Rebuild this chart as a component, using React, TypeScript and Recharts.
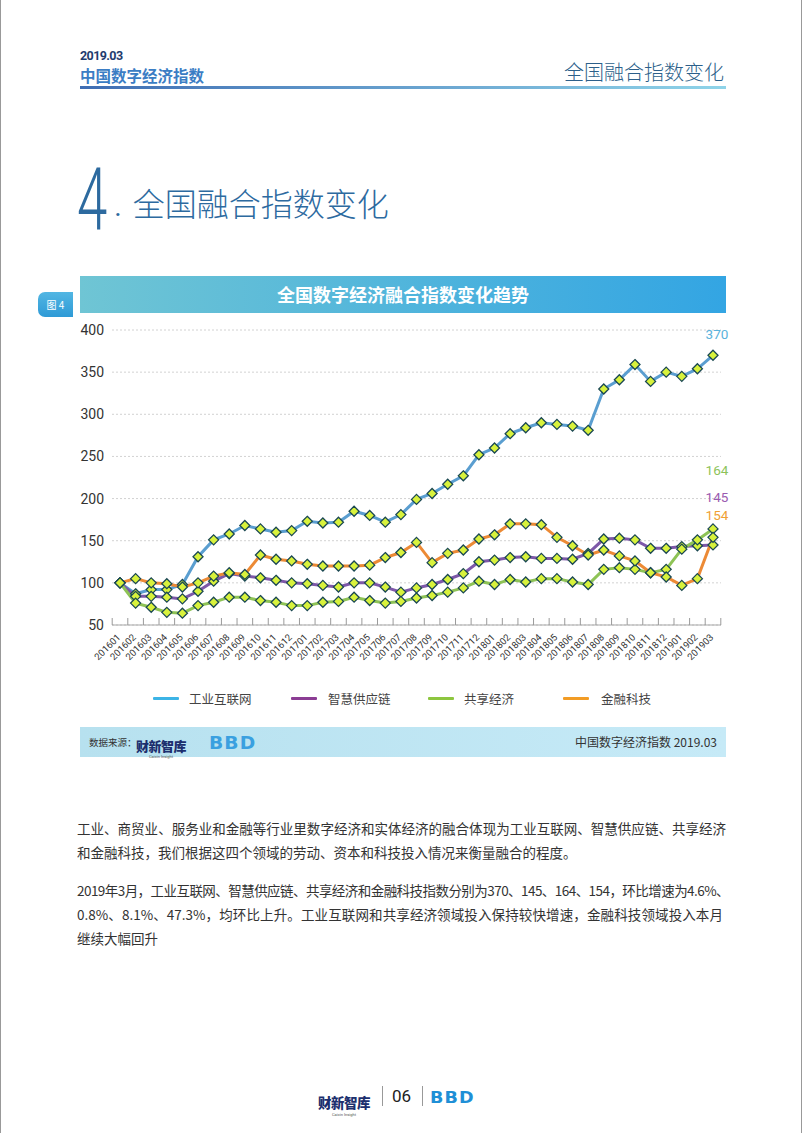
import React from "react";
import { LineChart, Line, XAxis, YAxis, CartesianGrid, LabelList } from "recharts";

const categories = [
  "201601","201602","201603","201604","201605","201606","201607","201608","201609","201610","201611","201612",
  "201701","201702","201703","201704","201705","201706","201707","201708","201709","201710","201711","201712",
  "201801","201802","201803","201804","201805","201806","201807","201808","201809","201810","201811","201812",
  "201901","201902","201903",
];
const industrial = [100, 87, 92, 92, 98, 131, 151, 158, 168, 164, 160, 162, 173, 171, 172, 185, 180, 172, 181, 199, 206, 217, 227, 252, 260, 277, 284, 290, 288, 286, 281, 330, 341, 359, 339, 350, 345, 354, 370];
const supply = [100, 84, 84, 83, 81, 90, 102, 111, 108, 106, 103, 100, 99, 97, 95, 100, 100, 95, 89, 94, 98, 104, 111, 125, 127, 130, 131, 129, 129, 128, 135, 152, 153, 151, 141, 141, 143, 144, 145];
const sharing = [100, 76, 71, 65, 64, 73, 77, 83, 83, 79, 77, 73, 73, 77, 78, 83, 79, 76, 78, 82, 85, 89, 94, 102, 98, 104, 101, 105, 105, 101, 98, 116, 118, 116, 112, 116, 140, 151, 164];
const fintech = [100, 105, 100, 99, 95, 100, 108, 112, 110, 133, 128, 126, 122, 120, 120, 120, 121, 130, 136, 148, 124, 135, 139, 152, 157, 170, 170, 169, 154, 144, 133, 139, 132, 126, 112, 107, 97, 105, 154];
const yTicks = [50, 100, 150, 200, 250, 300, 350, 400];

const seriesNames = ["工业互联网", "智慧供应链", "共享经济", "金融科技"];
const seriesKeys = ["industrial", "supply", "sharing", "fintech"];

const data = categories.map((m, i) => ({
  month: m,
  industrial: industrial[i],
  supply: supply[i],
  sharing: sharing[i],
  fintech: fintech[i],
}));

const lineColors: Record<string, string> = {
  industrial: "#5a9ed0",
  supply: "#7d58a8",
  sharing: "#8ec356",
  fintech: "#ec8a35",
};
const legendColors: Record<string, string> = {
  industrial: "#3cb4e6",
  supply: "#8b3d94",
  sharing: "#8dc63f",
  fintech: "#f29c25",
};
const labelColors: Record<string, string> = {
  industrial: "#5ab3dc",
  supply: "#9a5bb0",
  sharing: "#8dc35a",
  fintech: "#f0a035",
};
const labelDy: Record<string, number> = { industrial: -21, supply: -48, sharing: -59, fintech: -22 };

const CJK = '"Noto Sans CJK SC", "Noto Sans", sans-serif';
const NUM = 'Roboto, "Noto Sans", sans-serif';
const STEP = 15.6;

const Diamond = (p: any) => {
  const { cx, cy, index, dataKey } = p;
  if (cx == null || cy == null) return <g key={`e-${dataKey}-${index}`} />;
  const r = 5;
  return (
    <polygon
      key={`d-${dataKey}-${index}`}
      points={`${cx},${cy - r} ${cx + r},${cy} ${cx},${cy + r} ${cx - r},${cy}`}
      fill="#d8f23c"
      stroke="#1a4852"
      strokeWidth={1.3}
    />
  );
};

const XTick = (p: any) => {
  const { x, y, payload, index } = p;
  const last = index === categories.length - 1;
  const ax = x + 1;
  const ay = y + 13;
  return (
    <g>
      <line x1={x - STEP / 2} x2={x - STEP / 2} y1={y} y2={y - 7} stroke="#9a9a9a" strokeWidth={1} />
      {last && <line x1={x + STEP / 2} x2={x + STEP / 2} y1={y} y2={y - 7} stroke="#9a9a9a" strokeWidth={1} />}
      <text
        x={ax}
        y={ay}
        textAnchor="end"
        transform={`rotate(-45, ${ax}, ${ay})`}
        fontSize={9.5}
        fontFamily={NUM}
        fill="#333"
      >
        {payload.value}
      </text>
    </g>
  );
};

const makeEndLabel = (key: string) => (p: any) => {
  const { x, y, value, index } = p;
  if (index !== categories.length - 1) return null;
  return (
    <text
      x={x + 4}
      y={y + labelDy[key]}
      textAnchor="middle"
      dominantBaseline="central"
      fontSize={13.5}
      fontFamily={NUM}
      fill={labelColors[key]}
    >
      {value}
    </text>
  );
};

const BBD = ({ size, color }: { size: number; color: string }) => (
  <span style={{ fontFamily: '"DejaVu Sans", sans-serif', fontWeight: 900, fontSize: size, color, letterSpacing: 1, transform: "scaleX(1.1)", transformOrigin: "left center", display: "inline-block" }}>BBD</span>
);

const CaixinLogo = ({ size }: { size: number }) => (
  <span style={{ display: "inline-flex", flexDirection: "column", alignItems: "center" }}>
    <span style={{ fontFamily: CJK, fontWeight: 900, fontSize: size, color: "#1c2f6e", letterSpacing: -0.5, lineHeight: `${size}px` }}>财新智库</span>
    <span style={{ fontFamily: NUM, fontSize: 4, color: "#555", marginTop: 3, lineHeight: "4px" }}>Caixin Insight</span>
  </span>
);

export default function App() {
  const paraStyle: React.CSSProperties = {
    position: "absolute",
    left: 76,
    width: 649,
    fontFamily: CJK,
    fontSize: 13.5,
    color: "#333",
    whiteSpace: "nowrap",
    lineHeight: "20px",
  };
  const justify: React.CSSProperties = { textAlign: "justify", textAlignLast: "justify" as any };
  return (
    <div
      style={{
        position: "absolute",
        left: 0,
        top: 0,
        width: 802,
        height: 1133,
        background: "#fff",
        boxSizing: "border-box",
        borderLeft: "1px solid #999",
        borderRight: "1px solid #999",
        overflow: "hidden",
        fontFamily: CJK,
      }}
    >
      {/* header */}
      <div style={{ position: "absolute", left: 79, top: 48, fontFamily: NUM, fontWeight: 700, fontSize: 12.5, color: "#1f3c6e", letterSpacing: -0.6 }}>2019.03</div>
      <div style={{ position: "absolute", left: 79, top: 64, fontWeight: 700, fontSize: 15.5, color: "#3b7dc4", lineHeight: "22px" }}>中国数字经济指数</div>
      <div style={{ position: "absolute", right: 77, top: 59, fontWeight: 300, fontSize: 20, color: "#2c5f8a", lineHeight: "26px" }}>全国融合指数变化</div>
      <div style={{ position: "absolute", left: 79, top: 86, width: 646, height: 3, background: "linear-gradient(90deg, #3f6db3, #8fd4e9)" }} />

      {/* big title */}
      <div style={{ position: "absolute", left: 76, top: 150, fontFamily: NUM, fontWeight: 300, fontSize: 88, color: "#2d6a9f", lineHeight: "100px", transform: "scaleX(0.62)", transformOrigin: "left center" }}>4</div>
      <div style={{ position: "absolute", left: 114, top: 181, fontWeight: 300, fontSize: 32, color: "#2d6a9f", lineHeight: "42px" }}>
        <span style={{ fontFamily: NUM, fontWeight: 700, fontSize: 20, marginRight: 12 }}>.</span>全国融合指数变化
      </div>

      {/* figure label */}
      <div style={{ position: "absolute", left: 37, top: 292, width: 35, height: 25, borderRadius: "7px 0 0 7px", background: "linear-gradient(180deg, #52b6e3, #2e9ad6)", color: "#fff", fontSize: 10, lineHeight: "25px", textAlign: "center" }}>图 4</div>
      {/* title bar */}
      <div style={{ position: "absolute", left: 79, top: 276, width: 646, height: 37, background: "linear-gradient(90deg, #6fc5d4, #33a5e3)", color: "#fff", fontWeight: 700, fontSize: 18, lineHeight: "37px", textAlign: "center" }}>全国数字经济融合指数变化趋势</div>

      {/* chart */}
      <div style={{ position: "absolute", left: 0, top: 320 }}>
        <LineChart width={802} height={370} data={data} margin={{ top: 10, right: 82, bottom: 0, left: 0 }}>
          <CartesianGrid vertical={false} strokeDasharray="2 2" stroke="#d2d2d2" />
          <XAxis
            dataKey="month"
            interval={0}
            height={65}
            padding={{ left: 8, right: 8 }}
            tickLine={false}
            tickSize={0}
            tickMargin={0}
            axisLine={{ stroke: "#a8a8a8", strokeWidth: 1.2 }}
            tick={<XTick />}
          />
          <YAxis
            type="number"
            domain={[50, 400]}
            ticks={yTicks}
            width={111}
            axisLine={false}
            tickLine={false}
            tickSize={0}
            tickMargin={8}
            tick={{ fontSize: 14, fill: "#333", fontFamily: NUM }}
          />
          {seriesKeys.map((k) => (
            <Line
              key={k}
              type="linear"
              dataKey={k}
              stroke={lineColors[k]}
              strokeWidth={3}
              dot={Diamond}
              activeDot={false}
              isAnimationActive={false}
            >
              <LabelList dataKey={k} content={makeEndLabel(k)} />
            </Line>
          ))}
        </LineChart>
      </div>

      {/* legend */}
      {seriesKeys.map((k, i) => (
        <div key={k} style={{ position: "absolute", left: [152, 290, 427, 562][i], top: 690, display: "flex", alignItems: "center", height: 16 }}>
          <div style={{ width: 26, height: 3, background: legendColors[k], borderRadius: 1 }} />
          <div style={{ marginLeft: [10, 11, 10, 12][i], fontSize: 12.5, color: "#444" }}>{seriesNames[i]}</div>
        </div>
      ))}

      {/* source bar */}
      <div style={{ position: "absolute", left: 79, top: 727, width: 646, height: 30, background: "linear-gradient(90deg, #b7e1ef, #c6eaf7)" }}>
        <div style={{ position: "absolute", left: 9, top: 0, lineHeight: "30px", fontSize: 9.5, color: "#333" }}>数据来源：</div>
        <div style={{ position: "absolute", left: 56, top: 5 }}><CaixinLogo size={13} /></div>
        <div style={{ position: "absolute", left: 129, top: 4, lineHeight: "22px" }}><BBD size={17} color="#3aa0e0" /></div>
        <div style={{ position: "absolute", right: 9, top: 0, lineHeight: "30px", fontSize: 12, color: "#333" }}>中国数字经济指数 2019.03</div>
      </div>

      {/* paragraphs */}
      <div style={{ ...paraStyle, ...justify, top: 818 }}>工业、商贸业、服务业和金融等行业里数字经济和实体经济的融合体现为工业互联网、智慧供应链、共享经济</div>
      <div style={{ ...paraStyle, top: 842 }}>和金融科技，我们根据这四个领域的劳动、资本和科技投入情况来衡量融合的程度。</div>
      <div style={{ ...paraStyle, ...justify, top: 880, letterSpacing: -0.55 }}>2019年3月，工业互联网、智慧供应链、共享经济和金融科技指数分别为370、145、164、154，环比增速为4.6%、</div>
      <div style={{ ...paraStyle, ...justify, top: 904, width: 646 }}>0.8%、8.1%、47.3%，均环比上升。工业互联网和共享经济领域投入保持较快增速，金融科技领域投入本月</div>
      <div style={{ ...paraStyle, top: 928 }}>继续大幅回升</div>

      {/* footer */}
      <div style={{ position: "absolute", left: 317, top: 1089 }}><CaixinLogo size={13.5} /></div>
      <div style={{ position: "absolute", left: 381, top: 1086, width: 1, height: 20, background: "#999" }} />
      <div style={{ position: "absolute", left: 391, top: 1085, fontFamily: NUM, fontSize: 17, color: "#222", lineHeight: "22px" }}>06</div>
      <div style={{ position: "absolute", left: 421, top: 1086, width: 1, height: 20, background: "#999" }} />
      <div style={{ position: "absolute", left: 429, top: 1085, lineHeight: "22px" }}><BBD size={16} color="#1f8fd6" /></div>
    </div>
  );
}
